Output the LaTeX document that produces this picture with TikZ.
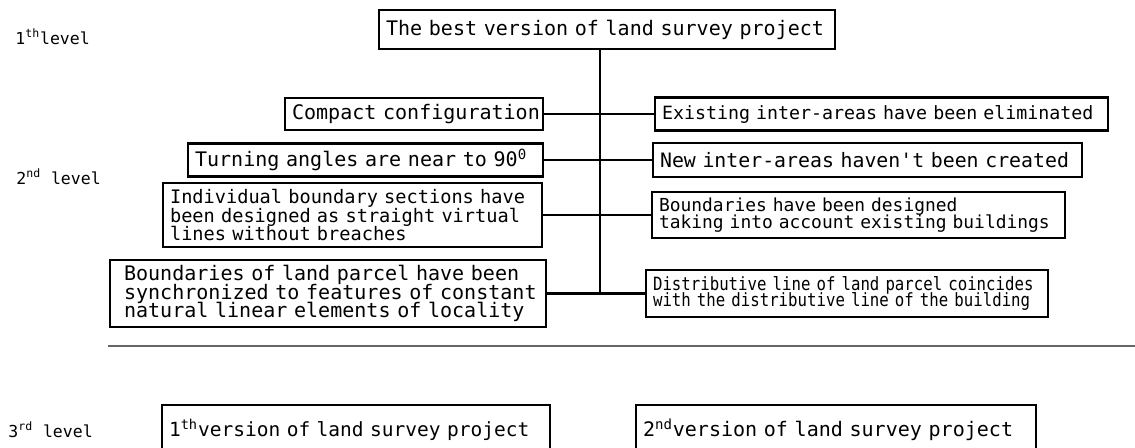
\documentclass[tikz,border=0pt]{standalone}
\usepackage{fontspec}
\usepackage{tikz}
\usetikzlibrary{positioning,calc}
\newfontfamily\cadfont{DejaVu Sans Mono}
\newfontfamily\cadnarrow[FakeStretch=0.86]{DejaVu Sans Mono}

\begin{document}
\begin{tikzpicture}[
  x=0.02cm,y=-0.02cm,
  bx/.style={draw,line width=1.5pt,inner xsep=0.14cm,inner ysep=0pt,align=left,
    font=\cadfont\fontsize{11.4}{10.4}\selectfont,
    execute at begin node={\lineskiplimit=-20pt}},
  ed/.style={line width=1.4pt},
  sep/.style={line width=1.2pt,black!60},
  lvl/.style={anchor=west,inner sep=0pt,font=\cadfont\fontsize{9.4}{10}\selectfont}
]
\useasboundingbox (0,0) rectangle (1135,447);

\node[lvl] (l1) at (15,37) {1\textsuperscript{th}level};
\node[lvl] (l2) at (16,177) {2\textsuperscript{nd} level};
\node[lvl] (l3) at (8,430) {3\textsuperscript{rd} level};

\node[bx,text width=8.84cm,minimum height=0.78cm] (top) at (607,29.5)
  {\mbox{The best version of land survey project}};

\node[bx,text width=4.88cm,minimum height=0.64cm] (cmp) at (414,114)
  {\mbox{Compact configuration}};
\node[bx,text width=6.82cm,minimum height=0.66cm] (trn) at (365.5,160)
  {\mbox{Turning angles are near to 90\textsuperscript{0}}};
\node[bx,text width=7.30cm,minimum height=1.28cm,font=\cadfont\fontsize{10.6}{10.4}\selectfont] (ind) at (352.5,215)
  {\mbox{Individual boundary sections have}\\\mbox{been designed as straight virtual}\\\mbox{lines without breaches}};
\node[bx,inner xsep=0.28cm,text width=8.16cm,minimum height=1.34cm] (lpc) at (328,293.5)
  {\mbox{Boundaries of land parcel have been}\\\mbox{synchronized to features of constant}\\\mbox{natural linear elements of locality}};

\node[bx,text width=8.78cm,minimum height=0.66cm,font=\cadfont\fontsize{10.4}{10}\selectfont] (exs) at (881.5,114)
  {\mbox{Existing inter-areas have been eliminated}};
\node[bx,text width=8.30cm,minimum height=0.68cm,font=\cadfont\fontsize{11.3}{10}\selectfont] (nwa) at (867.5,160)
  {\mbox{New inter-areas haven't been created}};
\node[bx,text width=7.98cm,minimum height=0.92cm,font=\cadfont\fontsize{10.2}{9.6}\selectfont] (dsg) at (858.5,215)
  {\mbox{Boundaries have been designed}\\\mbox{taking into account existing buildings}};
\node[bx,text width=7.76cm,minimum height=0.94cm,font=\cadnarrow\fontsize{10.4}{9.6}\selectfont] (dst) at (847,293.5)
  {\mbox{Distributive line of land parcel coincides}\\\mbox{with the distributive line of the building}};

\coordinate (jn) at (600,293.5);
\draw[ed] (top.south -| jn) -- (jn);
\draw[ed] (cmp.east) -- (cmp.east -| jn);
\draw[ed] (trn.east) -- (trn.east -| jn);
\draw[ed] (ind.east) -- (ind.east -| jn);
\draw[ed] (lpc.east) -- (jn);
\draw[ed] (jn |- exs.west) -- (exs.west);
\draw[ed] (jn |- nwa.west) -- (nwa.west);
\draw[ed] (jn |- dsg.west) -- (dsg.west);
\draw[ed] (jn) -- (dst.west);

\draw[sep] (108,346) -- (1135,346);

\node[bx,text width=7.48cm,minimum height=1.0cm,font=\cadfont\fontsize{11.1}{10}\selectfont] (v1) at (356,430)
  {\mbox{1\textsuperscript{th}version of land survey project}};
\node[bx,text width=7.72cm,minimum height=1.0cm] (v2) at (836,430)
  {\mbox{2\textsuperscript{nd}version of land survey project}};
\end{tikzpicture}
\end{document}
